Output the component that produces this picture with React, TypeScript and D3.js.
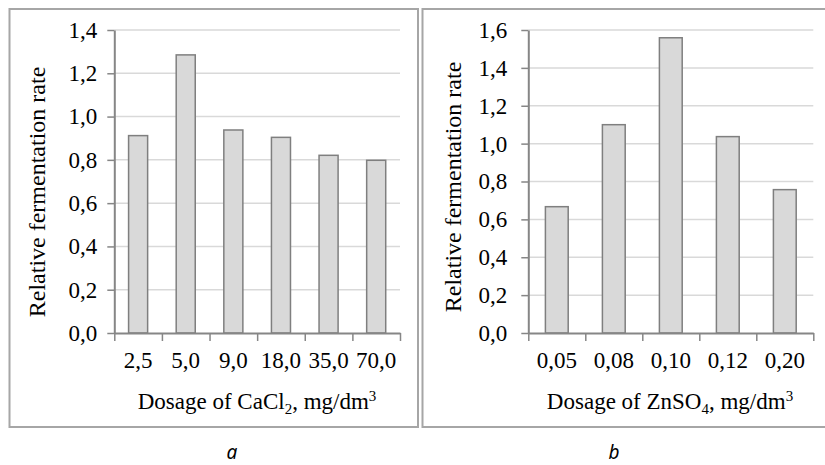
import React, { useEffect, useRef } from "react";
import * as d3 from "d3";

// panel a - CaCl2
const doseCaCl2 = ["2,5", "5,0", "9,0", "18,0", "35,0", "70,0"];
const rateCaCl2 = [0.912, 1.285, 0.938, 0.904, 0.821, 0.798];
const ticksCaCl2 = [0, 0.2, 0.4, 0.6, 0.8, 1.0, 1.2, 1.4];

// panel b - ZnSO4
const doseZnSO4 = ["0,05", "0,08", "0,10", "0,12", "0,20"];
const rateZnSO4 = [0.667, 1.1, 1.559, 1.037, 0.757];
const ticksZnSO4 = [0, 0.2, 0.4, 0.6, 0.8, 1.0, 1.2, 1.4, 1.6];

const yTitle = "Relative fermentation rate";

const SERIF = "'Liberation Serif', 'Times New Roman', serif";
const fmt = (v) => d3.format(".1f")(v).replace(".", ",");

function drawPanel(svg, opt) {
  const { cats, vals, ticks, x0, x1, top, bottom, yPad, yTitleX, yTitleY, xTitleX, chem, sub, letter, letterX } = opt;

  const x = d3.scaleBand().domain(cats).range([x0, x1]).paddingInner(0.6).paddingOuter(0.3);
  const y = d3.scaleLinear().domain([0, ticks[ticks.length - 1]]).range([bottom, top]);
  const edge = d3.scaleLinear().domain([0, cats.length]).range([x0, x1]);

  const g = svg.append("g");

  // gridlines
  g.selectAll("line.grid")
    .data(ticks.slice(1))
    .enter()
    .append("line")
    .attr("x1", x0)
    .attr("x2", x1)
    .attr("y1", (d) => y(d))
    .attr("y2", (d) => y(d))
    .attr("stroke", "#d9d9d9")
    .attr("stroke-width", 1.5);

  // bars
  g.selectAll("rect.bar")
    .data(vals)
    .enter()
    .append("rect")
    .attr("x", (d, i) => x(cats[i]))
    .attr("y", (d) => y(d))
    .attr("width", x.bandwidth())
    .attr("height", (d) => bottom - y(d))
    .attr("fill", "#d9d9d9")
    .attr("stroke", "#7f7f7f")
    .attr("stroke-width", 1.5);

  // y axis
  const yAxis = g.append("g")
    .attr("transform", `translate(${x0},0)`)
    .call(d3.axisLeft(y).tickValues(ticks).tickFormat(fmt).tickSize(7).tickSizeOuter(0).tickPadding(yPad));

  // x axis ticks sit on the category edges
  const xTicks = g.append("g")
    .attr("transform", `translate(0,${bottom})`)
    .call(d3.axisBottom(edge).ticks(cats.length).tickFormat(() => "").tickSize(8).tickSizeOuter(0));

  // x labels
  const xLabels = g.append("g")
    .attr("transform", `translate(0,${bottom})`)
    .call(d3.axisBottom(x).tickSize(0).tickPadding(19));

  [yAxis, xTicks, xLabels].forEach((a) => {
    a.select(".domain").attr("stroke", "#868686").attr("stroke-width", 2);
    a.selectAll(".tick line").attr("stroke", "#868686").attr("stroke-width", 1.5);
    a.selectAll("text").attr("fill", "#000").style("font-family", SERIF).style("font-size", "23px");
  });
  xLabels.select(".domain").remove();

  // y title
  g.append("text")
    .attr("transform", `translate(${yTitleX},${yTitleY}) rotate(-90)`)
    .attr("text-anchor", "middle")
    .attr("dominant-baseline", "central")
    .style("font-family", SERIF)
    .style("font-size", "24px")
    .text(yTitle);

  // x title with sub/superscripts
  const t = g.append("text")
    .attr("x", xTitleX)
    .attr("y", 409)
    .attr("text-anchor", "middle")
    .style("font-family", SERIF)
    .style("font-size", "23px");
  t.append("tspan").text("Dosage of " + chem);
  t.append("tspan").attr("dy", 5).style("font-size", "15px").text(sub);
  t.append("tspan").attr("dy", -5).text(", mg/dm");
  t.append("tspan").attr("dy", -8).style("font-size", "15px").text("3");

  svg.append("text")
    .attr("x", letterX)
    .attr("y", 459)
    .attr("text-anchor", "middle")
    .style("font-family", "'Noto Sans', 'DejaVu Sans', sans-serif")
    .style("font-style", "italic")
    .style("font-size", "19px")
    .text(letter);
}

export default function App() {
  const ref = useRef(null);

  useEffect(() => {
    const svg = d3.select(ref.current);
    svg.selectAll("*").remove();

    svg.append("rect").attr("width", 825).attr("height", 465).attr("fill", "#fff");

    // panel frames
    svg.append("rect")
      .attr("x", 9.5).attr("y", 9).attr("width", 408.5).attr("height", 418)
      .attr("fill", "none").attr("stroke", "#a6a6a6").attr("stroke-width", 2);
    svg.append("rect")
      .attr("x", 422.5).attr("y", 9).attr("width", 410).attr("height", 418)
      .attr("fill", "none").attr("stroke", "#a6a6a6").attr("stroke-width", 2);

    drawPanel(svg, {
      cats: doseCaCl2, vals: rateCaCl2, ticks: ticksCaCl2,
      x0: 114.3, x1: 400, top: 30, bottom: 333, yPad: 10,
      yTitleX: 37, yTitleY: 192, xTitleX: 257,
      chem: "CaCl", sub: "2", letter: "a", letterX: 232,
    });
    drawPanel(svg, {
      cats: doseZnSO4, vals: rateZnSO4, ticks: ticksZnSO4,
      x0: 528.3, x1: 813.3, top: 30, bottom: 333, yPad: 14,
      yTitleX: 453, yTitleY: 187, xTitleX: 670,
      chem: "ZnSO", sub: "4", letter: "b", letterX: 614,
    });
  }, []);

  return (
    <div style={{ position: "absolute", left: 0, top: 0 }}>
      <svg ref={ref} width={825} height={465} style={{ display: "block" }} />
    </div>
  );
}
